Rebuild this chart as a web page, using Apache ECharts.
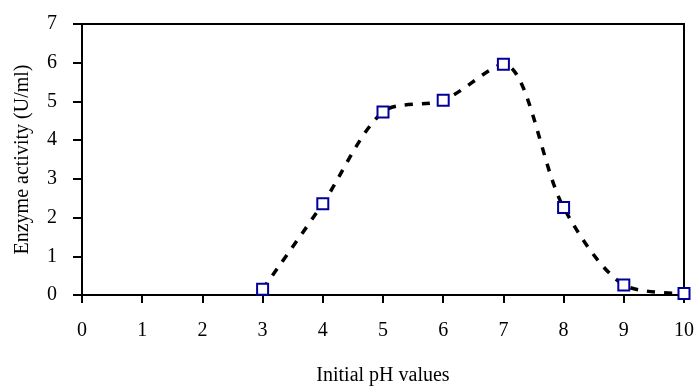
<!DOCTYPE html>
<html>
<head>
<meta charset="utf-8">
<script src="https://cdn.jsdelivr.net/npm/echarts@6/dist/echarts.min.js"></script>
<style>
  html, body { margin: 0; padding: 0; background: #fff; }
  #chart { width: 697px; height: 387px; }
</style>
</head>
<body>
<div id="chart"></div>
<script>
// pH values and measured enzyme activity (U/ml)
const phValues = [3, 4, 5, 6, 7, 8, 9, 10];
const activity = [0.15, 2.36, 4.73, 5.03, 5.96, 2.26, 0.26, 0.04];

const font = 'Liberation Serif';

const chart = echarts.init(document.getElementById('chart'));
chart.setOption({
  animation: false,
  grid: {
    left: 82,
    right: 13,
    top: 24,
    bottom: 92,
    outerBoundsMode: 'none',
    show: true,
    borderColor: '#000',
    borderWidth: 2,
  },
  xAxis: {
    type: 'value',
    min: 0,
    max: 10,
    interval: 1,
    name: 'Initial pH values',
    nameLocation: 'middle',
    nameGap: 71,
    nameTextStyle: { fontFamily: font, fontSize: 20, color: '#000' },
    axisLine: { lineStyle: { color: '#000', width: 2 } },
    axisTick: { inside: false, length: 8, lineStyle: { color: '#000', width: 2 } },
    axisLabel: { fontFamily: font, fontSize: 20, color: '#000', margin: 26 },
    splitLine: { show: false },
  },
  yAxis: {
    type: 'value',
    min: 0,
    max: 7,
    interval: 1,
    name: 'Enzyme activity (U/ml)',
    nameLocation: 'middle',
    nameGap: 49,
    nameTextStyle: { fontFamily: font, fontSize: 20, color: '#000' },
    axisLine: { show: true, lineStyle: { color: '#000', width: 2 } },
    axisTick: { show: true, inside: false, length: 9, lineStyle: { color: '#000', width: 2 } },
    axisLabel: { fontFamily: font, fontSize: 20, color: '#000', margin: 25 },
    splitLine: { show: false },
  },
  series: [{
    type: 'line',
    data: phValues.map((x, i) => [x, activity[i]]),
    smooth: 0.3,
    symbol: 'rect',
    symbolSize: 11,
    showAllSymbol: true,
    itemStyle: { color: '#fff', borderColor: '#000099', borderWidth: 2 },
    lineStyle: { color: '#000', width: 3.5, type: [8, 9] },
  }],
});
</script>
</body>
</html>
